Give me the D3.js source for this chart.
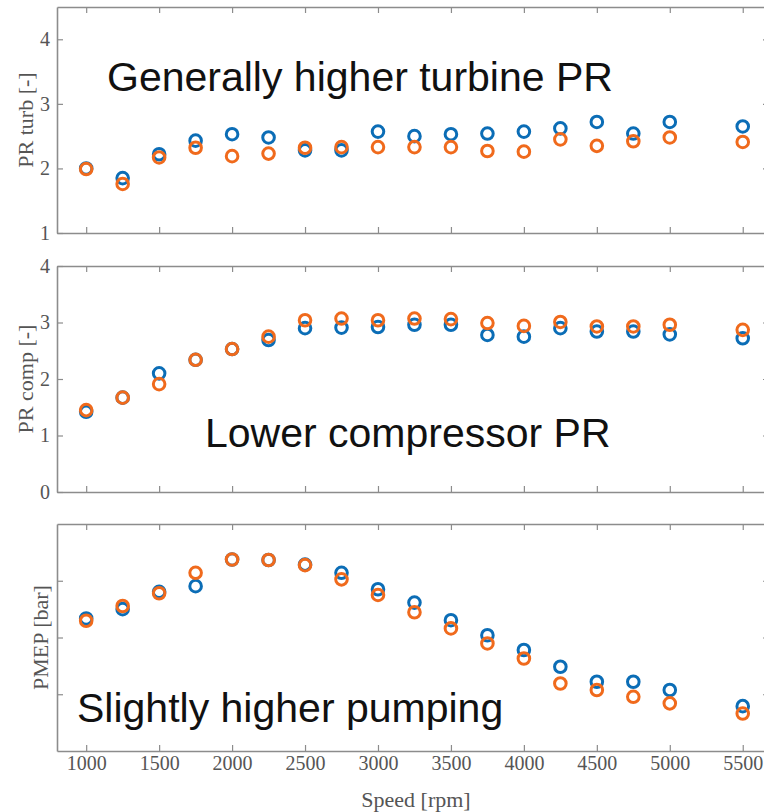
<!DOCTYPE html>
<html>
<head>
<meta charset="utf-8">
<script src="https://cdn.jsdelivr.net/npm/d3@7"></script>
<style>
  body { margin: 0; background: #fff; }
  svg { display: block; }
</style>
</head>
<body>
<div id="chart"></div>
<script>
const width = 764;
const height = 812;

// data
const speeds = [1000, 1250, 1500, 1750, 2000, 2250, 2500, 2750, 3000, 3250, 3500, 3750, 4000, 4250, 4500, 4750, 5000, 5500];
const xTicks = [1000, 1500, 2000, 2500, 3000, 3500, 4000, 4500, 5000, 5500];

const prTurbBlue   = [2.00, 1.85, 2.22, 2.43, 2.53, 2.48, 2.28, 2.28, 2.57, 2.50, 2.53, 2.54, 2.57, 2.62, 2.72, 2.54, 2.72, 2.65];
const prTurbOrange = [1.99, 1.76, 2.17, 2.32, 2.19, 2.23, 2.32, 2.33, 2.33, 2.33, 2.33, 2.27, 2.26, 2.45, 2.35, 2.42, 2.48, 2.41];

const prCompBlue   = [1.42, 1.67, 2.10, 2.34, 2.53, 2.69, 2.90, 2.91, 2.92, 2.96, 2.96, 2.78, 2.75, 2.90, 2.84, 2.84, 2.79, 2.72];
const prCompOrange = [1.45, 1.67, 1.91, 2.34, 2.53, 2.75, 3.04, 3.07, 3.04, 3.07, 3.06, 2.99, 2.94, 3.01, 2.93, 2.93, 2.96, 2.87];

const pmepBlue   = [-0.533, -0.500, -0.439, -0.419, -0.325, -0.327, -0.343, -0.372, -0.430, -0.477, -0.539, -0.592, -0.644, -0.703, -0.756, -0.756, -0.785, -0.842];
const pmepOrange = [-0.541, -0.489, -0.444, -0.372, -0.325, -0.327, -0.345, -0.395, -0.450, -0.511, -0.568, -0.621, -0.674, -0.762, -0.785, -0.809, -0.832, -0.868];

const prTurbTicks = [1, 2, 3, 4];
const prCompTicks = [0, 1, 2, 3, 4];
const pmepTicks = [-0.4, -0.6, -0.8];

const blue = '#0b6db6';
const orange = '#f06a1c';
const frame = '#8c8c8c';
const serif = 'Liberation Serif, Times New Roman, serif';

const left = 57;
const right = 769;

const x = d3.scaleLinear().domain([800, 5680]).range([left, right]);

const panels = [
    { top: 7, bottom: 233, domain: [1, 4.5], ticks: prTurbTicks, showY: true,
      label: 'PR turb [-]', labelX: 25, blue: prTurbBlue, orange: prTurbOrange,
      note: 'Generally higher turbine PR', noteX: 107, noteY: 91 },
    { top: 266, bottom: 492, domain: [0, 4], ticks: prCompTicks, showY: true,
      label: 'PR comp [-]', labelX: 25, blue: prCompBlue, orange: prCompOrange,
      note: 'Lower compressor PR', noteX: 205, noteY: 447 },
    { top: 524, bottom: 751, domain: [-1.0, -0.2], ticks: pmepTicks, showY: false,
      label: 'PMEP [bar]', labelX: 40, blue: pmepBlue, orange: pmepOrange,
      note: 'Slightly higher pumping', noteX: 77, noteY: 722, showX: true }
];

const svg = d3.select('#chart')
    .append('svg')
    .attr('width', width)
    .attr('height', height);

panels.forEach(p => {
    const y = d3.scaleLinear().domain(p.domain).range([p.bottom, p.top]);
    const g = svg.append('g');

    // annotation behind the markers
    g.append('text')
        .attr('x', p.noteX)
        .attr('y', p.noteY)
        .attr('font-family', 'Liberation Sans, Arial, sans-serif')
        .attr('font-size', 41)
        .attr('fill', '#111')
        .text(p.note);

    // bottom axis (labels only on last panel)
    const gx = g.append('g')
        .attr('transform', `translate(0,${p.bottom})`)
        .call(d3.axisBottom(x).tickValues(xTicks).tickSizeInner(-6).tickSizeOuter(0).tickPadding(5).tickFormat(d3.format('d')));
    if (!p.showX) gx.selectAll('text').remove();

    // top mirror ticks
    g.append('g')
        .attr('transform', `translate(0,${p.top})`)
        .call(d3.axisTop(x).tickValues(xTicks).tickSizeInner(-6).tickSizeOuter(0).tickFormat(''));

    // left axis
    const gy = g.append('g')
        .attr('transform', `translate(${left},0)`)
        .call(d3.axisLeft(y).tickValues(p.ticks).tickSizeInner(-6).tickSizeOuter(0).tickPadding(7).tickFormat(d3.format('d')));
    if (!p.showY) gy.selectAll('text').remove();

    // right mirror ticks
    g.append('g')
        .attr('transform', `translate(${right},0)`)
        .call(d3.axisRight(y).tickValues(p.ticks).tickSizeInner(-6).tickSizeOuter(0).tickFormat(''));

    g.selectAll('.domain').attr('stroke', frame).attr('stroke-width', 1.6);
    g.selectAll('.tick line').attr('stroke', frame).attr('stroke-width', 1.2);
    g.selectAll('.tick text')
        .attr('font-family', serif)
        .attr('font-size', 20)
        .attr('fill', '#555');

    // y label
    g.append('text')
        .attr('transform', `translate(${p.labelX},${(p.top + p.bottom) / 2}) rotate(-90)`)
        .attr('text-anchor', 'middle')
        .attr('dominant-baseline', 'central')
        .attr('font-family', serif)
        .attr('font-size', 22)
        .attr('fill', '#555')
        .text(p.label);

    // markers: blue first, orange on top
    [[p.blue, blue], [p.orange, orange]].forEach(([vals, color]) => {
        g.append('g')
            .selectAll('circle')
            .data(vals)
            .enter().append('circle')
            .attr('cx', (d, i) => x(speeds[i]))
            .attr('cy', d => y(d))
            .attr('r', 5.8)
            .attr('fill', 'none')
            .attr('stroke', color)
            .attr('stroke-width', 3);
    });
});

svg.append('text')
    .attr('x', (left + right) / 2 + 3)
    .attr('y', 807)
    .attr('text-anchor', 'middle')
    .attr('font-family', serif)
    .attr('font-size', 22)
    .attr('fill', '#555')
    .text('Speed [rpm]');
</script>
</body>
</html>
